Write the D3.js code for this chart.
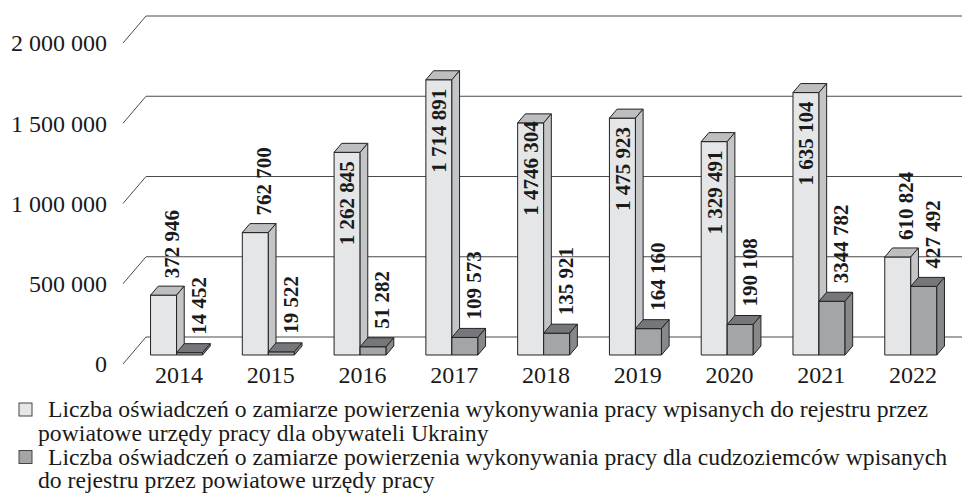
<!DOCTYPE html>
<html lang="pl">
<head>
  <meta charset="UTF-8">
  <title>Oświadczenia o zamiarze powierzenia wykonywania pracy</title>
  <style>
    body { margin: 0; background: #fff; }
    svg text { font-family: "Liberation Serif", "Times New Roman", serif; fill: #1a1a1a; }
  </style>
</head>
<body>
  <div id="chart"></div>

  <script src="https://d3js.org/d3.v7.min.js"></script>
  <script>
    // data
    const years = ['2014', '2015', '2016', '2017', '2018', '2019', '2020', '2021', '2022'];
    const ukraine = [372946, 762700, 1262845, 1714891, 1446304, 1475923, 1329491, 1635104, 610824];
    const foreigners = [14452, 19522, 51282, 109573, 135921, 164160, 190108, 334782, 427492];
    // labels as printed (typos kept)
    const ukraineLabels = ['372 946', '762 700', '1 262 845', '1 714 891', '1 4746 304', '1 475 923', '1 329 491', '1 635 104', '610 824'];
    const foreignLabels = ['14 452', '19 522', '51 282', '109 573', '135 921', '164 160', '190 108', '3344 782', '427 492'];
    const yTicks = [0, 500000, 1000000, 1500000, 2000000];
    const legendLines = [
      ['Liczba oświadczeń o zamiarze powierzenia wykonywania pracy wpisanych do rejestru przez',
       'powiatowe urzędy pracy dla obywateli Ukrainy'],
      ['Liczba oświadczeń o zamiarze powierzenia wykonywania pracy dla cudzoziemców wpisanych',
       'do rejestru przez powiatowe urzędy pracy']
    ];

    const width = 962, height = 498;
    const depthX = 23, depthY = -27;      // full depth of the floor
    const t0 = 1 / 3, t1 = 2 / 3;         // bars sit in the middle third

    const colors = [
      { front: '#e5e6e8', top: '#bdbec0', side: '#c4c5c7' },
      { front: '#a4a5a7', top: '#76777a', side: '#87888a' }
    ];

    const fmt = d3.formatLocale({ decimal: ',', thousands: ' ', grouping: [3], currency: ['', ''] }).format(',d');

    const svg = d3.select('#chart').append('svg')
      .attr('width', width)
      .attr('height', height);

    const y = d3.scaleLinear().domain([0, 2000000]).range([364, 43]);
    const x = d3.scaleBand().domain(years).range([123, 949]).paddingInner(0.433).paddingOuter(0.2165);
    const xs = d3.scaleBand().domain([0, 1]).range([0, x.bandwidth()]);

    // gridlines: back wall + left wall diagonals
    const grid = svg.append('g').attr('stroke', '#4a4a4a').attr('stroke-width', 1).attr('fill', 'none');
    yTicks.forEach(v => {
      const yf = y(v);
      grid.append('line')
        .attr('x1', 123).attr('y1', yf)
        .attr('x2', 123 + depthX).attr('y2', yf + depthY);
      grid.append('line')
        .attr('x1', 123 + depthX).attr('y1', yf + depthY)
        .attr('x2', width).attr('y2', yf + depthY);
    });

    svg.append('g').selectAll('text')
      .data(yTicks)
      .join('text')
      .attr('x', 107)
      .attr('y', d => y(d))
      .attr('dy', '0.35em')
      .attr('text-anchor', 'end')
      .attr('font-size', 24)
      .text(d => fmt(d));

    // bars, left to right, light bar before dark bar
    const bars = svg.append('g').attr('stroke', '#222').attr('stroke-width', 1).attr('stroke-linejoin', 'round');
    const dx0 = depthX * t0, dy0 = depthY * t0;
    const ddx = depthX * (t1 - t0), ddy = depthY * (t1 - t0);

    function drawBar(xl, w, v, c) {
      const xa = xl + dx0, xb = xa + w;
      const yb = y(0) + dy0, yt = y(v) + dy0;
      bars.append('path')
        .attr('fill', c.front)
        .attr('d', `M${xa},${yb}V${yt}H${xb}V${yb}Z`);
      bars.append('path')
        .attr('fill', c.top)
        .attr('d', `M${xa},${yt}L${xa + ddx},${yt + ddy}H${xb + ddx}L${xb},${yt}Z`);
      bars.append('path')
        .attr('fill', c.side)
        .attr('d', `M${xb},${yb}V${yt}L${xb + ddx},${yt + ddy}V${yb + ddy}Z`);
    }

    years.forEach((yr, i) => {
      drawBar(x(yr) + xs(0), xs.bandwidth(), ukraine[i], colors[0]);
      drawBar(x(yr) + xs(1), xs.bandwidth(), foreigners[i], colors[1]);
    });

    // value labels, rotated
    const labels = svg.append('g').attr('font-size', 21).attr('font-weight', 'bold');
    function addLabel(px, py, txt) {
      labels.append('text')
        .attr('transform', `translate(${px},${py}) rotate(-90)`)
        .attr('dy', '0.35em')
        .attr('text-anchor', 'start')
        .text(txt);
    }
    years.forEach((yr, i) => {
      const w = xs.bandwidth();
      // Ukraine
      let cx = x(yr) + xs(0) + dx0 + w / 2;
      const yt = y(ukraine[i]) + dy0;
      if (ukraine[i] > 1000000) {
        addLabel(cx, yt + 93, ukraineLabels[i]);
      } else {
        addLabel(cx + 8, yt + ddy - 8, ukraineLabels[i]);
      }
      // foreigners
      cx = x(yr) + xs(1) + dx0 + w / 2;
      addLabel(cx + 9, y(foreigners[i]) + dy0 + ddy - 9, foreignLabels[i]);
    });

    // category labels
    svg.append('g').selectAll('text')
      .data(years)
      .join('text')
      .attr('x', d => x(d) + x.bandwidth() / 2 + 10)
      .attr('y', 375)
      .attr('dy', '0.35em')
      .attr('text-anchor', 'middle')
      .attr('font-size', 24)
      .text(d => d);

    // legend
    const legend = svg.append('g');
    legendLines.forEach((lines, k) => {
      const yc = 409 + k * 47.5;
      legend.append('rect')
        .attr('x', 19).attr('y', yc - 6)
        .attr('width', 13).attr('height', 13)
        .attr('fill', colors[k].front)
        .attr('stroke', '#444');
      legend.append('text')
        .attr('x', 48).attr('y', yc)
        .attr('dy', '0.35em')
        .attr('font-size', 23.7)
        .text(lines[0]);
      legend.append('text')
        .attr('x', 38).attr('y', yc + 23.5)
        .attr('dy', '0.35em')
        .attr('font-size', 23.7)
        .text(lines[1]);
    });
  </script>
</body>
</html>
